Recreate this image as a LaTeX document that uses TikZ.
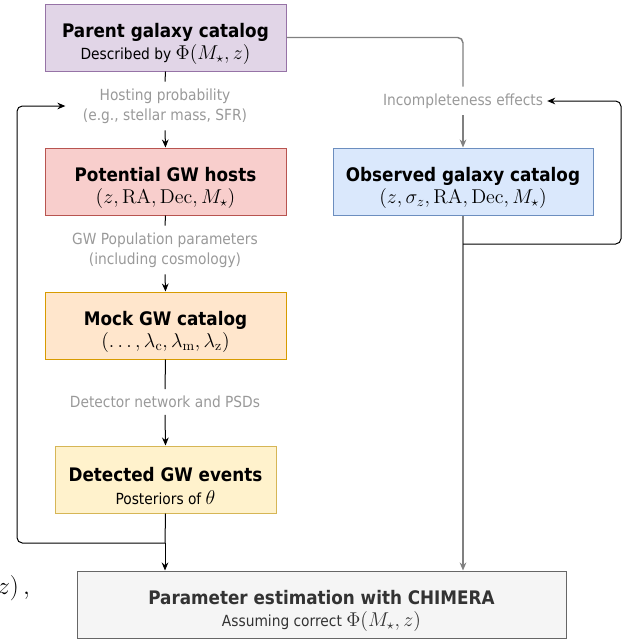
\RequirePackage{fix-cm}
\documentclass[tikz,border=0pt]{standalone}
\usepackage[no-math]{fontspec}
\setmainfont{DejaVu Sans Condensed}
\usetikzlibrary{arrows.meta}

\definecolor{parentfill}{HTML}{E1D5E7}\definecolor{parentdraw}{HTML}{9673A6}
\definecolor{hostfill}{HTML}{F8CECC}\definecolor{hostdraw}{HTML}{B85450}
\definecolor{mockfill}{HTML}{FFE6CC}\definecolor{mockdraw}{HTML}{D79B00}
\definecolor{detfill}{HTML}{FFF2CC}\definecolor{detdraw}{HTML}{D6B656}
\definecolor{obsfill}{HTML}{DAE8FC}\definecolor{obsdraw}{HTML}{6C8EBF}
\definecolor{chifill}{HTML}{F5F5F5}\definecolor{chidraw}{HTML}{666666}
\definecolor{chitext}{HTML}{333333}
\definecolor{lblgray}{HTML}{999999}
\definecolor{linegray}{HTML}{808080}

\tikzset{
  box/.style={draw, line width=0.75pt, align=center, minimum width=180.75pt,
    minimum height=50.25pt, inner sep=2pt, font=\fontsize{11.5}{17}\selectfont},
  lbl/.style={text=lblgray, align=center, font=\fontsize{11.5}{15}\selectfont,
    inner xsep=3pt, inner ysep=5pt},
  conn/.style={line width=0.75pt, rounded corners=4pt},
  arr/.style={-{Stealth[length=6pt,width=5pt]}},
  grayline/.style={draw=linegray, line width=1.1pt},
}
\newcommand{\ttl}[1]{{\fontsize{14}{17}\selectfont\bfseries\rule{0pt}{20pt}#1}}
\newcommand{\mth}[1]{{\fontsize{15}{17}\selectfont$#1$}}

\begin{document}
\begin{tikzpicture}[x=0.75pt, y=-0.75pt]
    \useasboundingbox (0,0) rectangle (633,639);

    % Left column
    \node[box, fill=parentfill, draw=parentdraw] (parent) at (165.5,37.5)
        {\ttl{Parent galaxy catalog}\\Described by \mth{\Phi(M_\star, z)}};
    \node[lbl] (hosting) at (165,106)
        {Hosting probability\\(e.g., stellar mass, SFR)};
    \node[box, fill=hostfill, draw=hostdraw] (potential) at (165.5,181.5)
        {\ttl{Potential GW hosts}\\\mth{(z, \mathrm{RA}, \mathrm{Dec}, M_\star)}};
    \node[lbl] (gwpop) at (165,250)
        {GW Population parameters\\(including cosmology)};
    \node[box, fill=mockfill, draw=mockdraw] (mock) at (165.5,325.5)
        {\ttl{Mock GW catalog}\\\mth{(\ldots, \lambda_{\mathrm{c}}, \lambda_{\mathrm{m}}, \lambda_{\mathrm{z}})}};
    \node[lbl] (detector) at (165,402) {Detector network and PSDs};
    \node[box, fill=detfill, draw=detdraw, minimum width=165.75pt] (detected) at (165.5,479.5)
        {\ttl{Detected GW events}\\Posteriors of \mth{\theta}};

    % Right column
    \node[lbl] (incomp) at (463,101) {Incompleteness effects};
    \node[box, fill=obsfill, draw=obsdraw, minimum width=195pt] (observed) at (463,181.5)
        {\ttl{Observed galaxy catalog}\\\mth{(z, \sigma_z, \mathrm{RA}, \mathrm{Dec}, M_\star)}};

    % Bottom
    \node[box, fill=chifill, draw=chidraw, text=chitext, minimum width=366.75pt] (chimera) at (321.5,604.5)
        {\ttl{Parameter estimation with CHIMERA}\\Assuming correct \mth{\Phi(M_\star, z)}};

    \node[anchor=base west, inner sep=0pt, font=\fontsize{19}{22}\selectfont] (stray) at (-3,594) {$z)\,,$};

    \coordinate (joinL) at (165,543);
    \coordinate (cornerL) at (17,543);
    \coordinate (joinR) at (463,244);
    \coordinate (cornerR) at (621,244);

    % Left chain
    \draw[conn] (parent.south) -- (hosting.north);
    \draw[conn, arr] (hosting.south) -- (potential.north);
    \draw[conn] (potential.south) -- (gwpop.north);
    \draw[conn, arr] (gwpop.south) -- (mock.north);
    \draw[conn] (mock.south) -- (detector.north);
    \draw[conn, arr] (detector.south) -- (detected.north);
    \draw[conn] (detected.south) -- (joinL);
    \draw[conn, arr] (joinL) -- (joinL |- chimera.north);
    \draw[conn, arr, shorten >=10pt] (joinL) -- (cornerL) |- (hosting.west);

    % Right chain
    \draw[conn, grayline] (parent.east) -| (incomp.north);
    \draw[conn, grayline, arr] (incomp.south) -- (observed.north);
    \draw[conn, grayline, arr] (observed.south) -- (observed.south |- chimera.north);
    \draw[conn, arr] (joinR) -- (cornerR) |- (incomp.east);
\end{tikzpicture}
\end{document}
